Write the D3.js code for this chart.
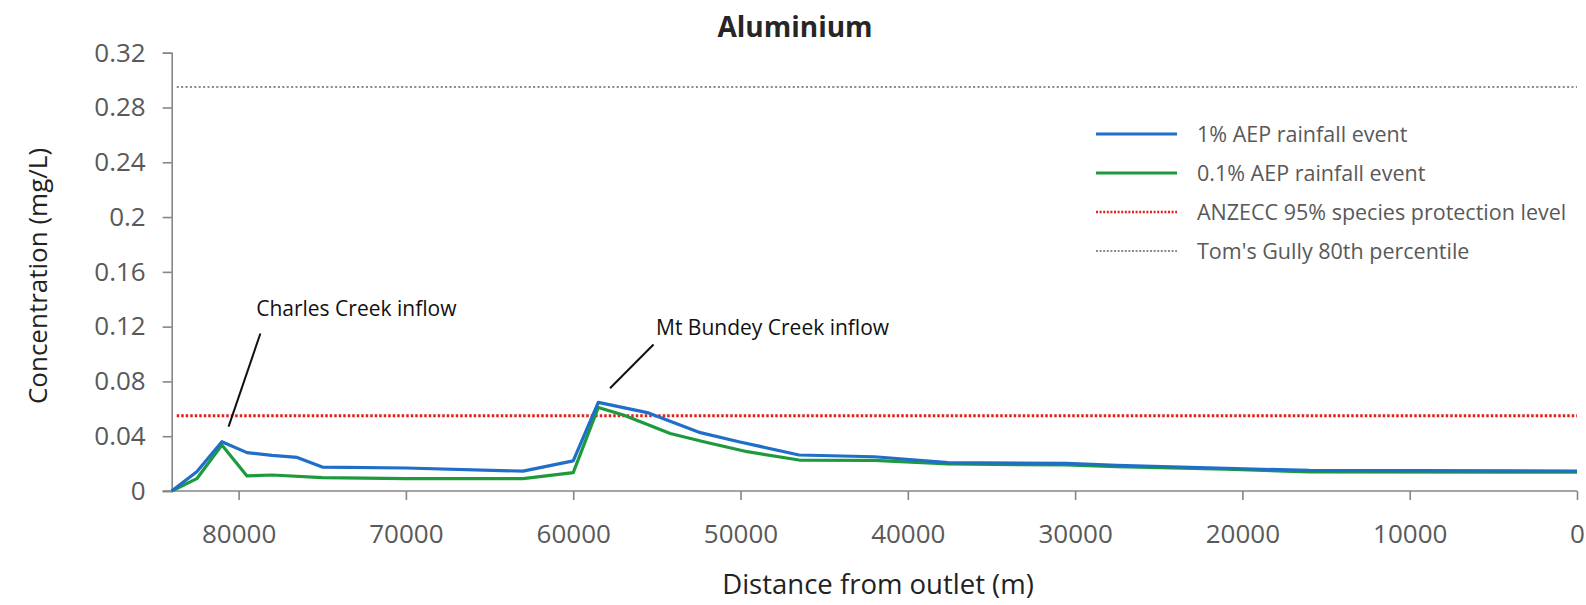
<!DOCTYPE html>
<html>
<head>
<meta charset="utf-8">
<script src="https://cdn.jsdelivr.net/npm/d3@7"></script>
<style>
  body { margin: 0; background: #fff; }
  svg { font-family: "Open Sans", sans-serif; }
</style>
</head>
<body>
<svg width="1586" height="605"></svg>
<script>
// chart values
const title = "Aluminium";
const xLabel = "Distance from outlet (m)";
const yLabel = "Concentration (mg/L)";

const dist1 = [84000, 82500, 81000, 79500, 78000, 76500, 75000, 70000, 63000, 60000, 58500,
  55500, 52400, 50100, 46500, 42000, 37600, 30500, 27500, 21000, 16000, 0];
const aep1 = [0, 0.014, 0.036, 0.028, 0.026, 0.0245, 0.0175, 0.0168, 0.0145, 0.022, 0.0647,
  0.057, 0.0426, 0.036, 0.0263, 0.025, 0.0207, 0.0202, 0.0188, 0.0166, 0.015, 0.0146];

const dist01 = [84000, 82500, 81000, 79500, 78000, 75000, 70000, 63000, 60000, 58500,
  57000, 54200, 52200, 49600, 46500, 42000, 37600, 30500, 27500, 21000, 16000, 0];
const aep01 = [0, 0.009, 0.0336, 0.011, 0.0117, 0.0097, 0.009, 0.009, 0.0134, 0.061,
  0.0555, 0.042, 0.036, 0.0287, 0.0226, 0.0224, 0.0197, 0.019, 0.0177, 0.016, 0.014, 0.0138];

const anzecc = 0.055;
const tomsGully = 0.295;

const xTicks = [80000, 70000, 60000, 50000, 40000, 30000, 20000, 10000, 0];
const yTicks = [0, 0.04, 0.08, 0.12, 0.16, 0.2, 0.24, 0.28, 0.32];
const yTickLabels = ["0", "0.04", "0.08", "0.12", "0.16", "0.2", "0.24", "0.28", "0.32"];

const legendLabels = ["1% AEP rainfall event", "0.1% AEP rainfall event",
  "ANZECC 95% species protection level", "Tom's Gully 80th percentile"];

const notes = [
  {text: "Charles Creek inflow", x: 78950, y: 0.128, from: [78700, 0.115], to: [80600, 0.047]},
  {text: "Mt Bundey Creek inflow", x: 55050, y: 0.114, from: [55200, 0.107], to: [57800, 0.075]}
];

// layout
const svg = d3.select("svg");
const plotLeft = 171.7, plotRight = 1577, plotTop = 52.7, plotBottom = 491;

let xScale = d3.scaleLinear().domain([84000, 0]).range([plotLeft, plotRight]);
let yScale = d3.scaleLinear().domain([0, 0.32]).range([plotBottom, plotTop]);

const axisColor = "#868686";
const textColor = "#595959";

// y axis
let yAxis = d3.axisLeft(yScale).tickValues(yTicks)
  .tickFormat((d, i) => yTickLabels[i]).tickSizeOuter(0).tickSize(9).tickPadding(17);
let yAxisG = svg.append("g").attr("id", "yAxisG")
  .attr("transform", `translate(${plotLeft}, 0)`).call(yAxis);

// x axis
let xAxis = d3.axisBottom(xScale).tickValues(xTicks)
  .tickFormat(d3.format("d")).tickSizeOuter(0).tickSize(9).tickPadding(25);
let xAxisG = svg.append("g").attr("id", "xAxisG")
  .attr("transform", `translate(0, ${plotBottom})`).call(xAxis);

// d3 puts font-family="sans-serif" on the axis groups, override it
d3.selectAll("#yAxisG, #xAxisG").attr("font-family", null);
d3.selectAll("#yAxisG path.domain, #xAxisG path.domain")
  .attr("stroke", axisColor).attr("stroke-width", 1.6);
d3.selectAll("#yAxisG line, #xAxisG line")
  .attr("stroke", axisColor).attr("stroke-width", 1.6);
d3.selectAll("#yAxisG text, #xAxisG text")
  .attr("fill", textColor)
  .style("font-family", "'Open Sans', sans-serif")
  .style("font-size", "26px");
// extend x axis line to the left under the zero tick
xAxisG.select("path.domain").attr("d", `M${plotLeft - 9},0H${plotRight}`);

// reference lines
const refs = [
  {v: tomsGully, color: "#8a8a8a", width: 2, dash: "2 2.4"},
  {v: anzecc, color: "#e0201c", width: 3, dash: "2.5 2"}
];
svg.selectAll("line.ref")
  .data(refs)
  .join("line")
  .attr("class", "ref")
  .attr("x1", xScale(83700))
  .attr("x2", xScale(0))
  .attr("y1", d => yScale(d.v))
  .attr("y2", d => yScale(d.v))
  .attr("stroke", d => d.color)
  .attr("stroke-width", d => d.width)
  .attr("stroke-dasharray", d => d.dash);

// series lines
let line = d3.line().x(d => xScale(d[0])).y(d => yScale(d[1]));
const series = [
  {pts: d3.zip(dist01, aep01), color: "#1c9a3c"},
  {pts: d3.zip(dist1, aep1), color: "#1f6ec8"}
];
svg.selectAll("path.series")
  .data(series)
  .join("path")
  .attr("class", "series")
  .attr("d", d => line(d.pts))
  .attr("fill", "none")
  .attr("stroke", d => d.color)
  .attr("stroke-width", 3.2)
  .attr("stroke-linejoin", "round");

// annotations
svg.selectAll("g.note")
  .data(notes)
  .join("g")
  .attr("class", "note")
  .each(function (d) {
    d3.select(this).append("line")
      .attr("x1", xScale(d.from[0])).attr("y1", yScale(d.from[1]))
      .attr("x2", xScale(d.to[0])).attr("y2", yScale(d.to[1]))
      .attr("stroke", "#111").attr("stroke-width", 2);
    d3.select(this).append("text")
      .attr("x", xScale(d.x)).attr("y", yScale(d.y))
      .style("font-size", "21px").attr("fill", "#111")
      .text(d.text);
  });

// legend
const legendStyle = [
  {color: "#1f6ec8", width: 3.2, dash: null},
  {color: "#1c9a3c", width: 3.2, dash: null},
  {color: "#e0201c", width: 2.5, dash: "2 1.6"},
  {color: "#8a8a8a", width: 2, dash: "2 1.6"}
];
let legend = svg.append("g").attr("transform", "translate(1096, 134)");
legend.selectAll("g.item")
  .data(legendLabels)
  .join("g")
  .attr("class", "item")
  .attr("transform", (d, i) => `translate(0, ${i * 39})`)
  .each(function (d, i) {
    d3.select(this).append("line")
      .attr("x1", 0).attr("x2", 81).attr("y1", 0).attr("y2", 0)
      .attr("stroke", legendStyle[i].color)
      .attr("stroke-width", legendStyle[i].width)
      .attr("stroke-dasharray", legendStyle[i].dash);
    d3.select(this).append("text")
      .attr("x", 101).attr("y", 0).attr("dy", "0.35em")
      .style("font-size", "21.5px").attr("fill", textColor)
      .text(d);
  });

// titles
svg.append("text")
  .attr("x", 795).attr("y", 37)
  .attr("text-anchor", "middle")
  .style("font-size", "28px").style("font-weight", "bold").attr("fill", "#262626")
  .text(title);

svg.append("text")
  .attr("x", 878).attr("y", 594)
  .attr("text-anchor", "middle")
  .style("font-size", "27.5px").attr("fill", "#222")
  .text(xLabel);

svg.append("text")
  .attr("transform", "translate(47, 276) rotate(-90)")
  .attr("text-anchor", "middle")
  .style("font-size", "26px").attr("fill", "#222")
  .text(yLabel);
</script>
</body>
</html>
